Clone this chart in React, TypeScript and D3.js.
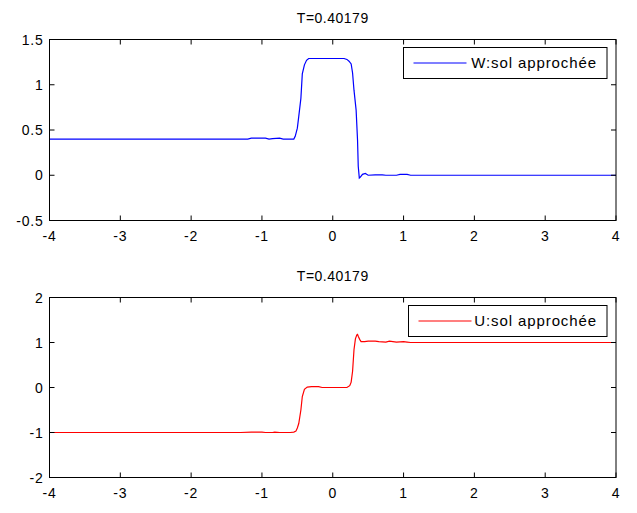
import React from 'react';
import * as d3 from 'd3';

// sampled solution W(x) at T=0.40179
const wX = [-4, -1.5, -1.2, -1.15, -0.95, -0.9, -0.85, -0.75, -0.7, -0.55, -0.53, -0.5, -0.48, -0.45, -0.43, -0.4, -0.37, -0.34,
  0.16, 0.2, 0.23, 0.26, 0.28, 0.3, 0.33, 0.35, 0.36, 0.375, 0.39, 0.42, 0.46, 0.5, 0.6, 0.7, 0.75, 0.9, 0.95, 1.05, 1.1, 4];
const wY = [0.4, 0.4, 0.4, 0.41, 0.41, 0.4, 0.405, 0.41, 0.4, 0.4, 0.43, 0.52, 0.65, 0.85, 1.12, 1.22, 1.27, 1.29,
  1.29, 1.28, 1.26, 1.23, 1.13, 0.94, 0.72, 0.39, 0.1, -0.03, -0.02, 0.01, 0.02, 0.0, 0.005, 0.005, 0.0, 0.0, 0.01, 0.01, 0.0, 0];

// sampled solution U(x) at T=0.40179
const uX = [-4, -1.3, -1.15, -1.0, -0.95, -0.85, -0.82, -0.75, -0.6, -0.55, -0.52, -0.5, -0.48, -0.45, -0.43, -0.4, -0.36, -0.3,
  -0.2, -0.15, 0.2, 0.24, 0.26, 0.28, 0.3, 0.32, 0.34, 0.35, 0.36, 0.38, 0.4, 0.45, 0.5, 0.6, 0.65, 0.75, 0.8, 0.9, 1.0, 1.05, 1.1, 4];
const uY = [-1, -1, -0.99, -0.99, -1, -1, -0.99, -1, -1, -0.99, -0.97, -0.9, -0.8, -0.5, -0.2, -0.04, 0.01, 0.02,
  0.02, 0.0, 0.0, 0.04, 0.12, 0.36, 0.84, 1.08, 1.17, 1.18, 1.14, 1.07, 1.02, 1.02, 1.03, 1.03, 1.02, 1.01, 1.03, 1.01, 1.02, 1.01, 1.0, 1];

const xTicks = [-4, -3, -2, -1, 0, 1, 2, 3, 4];
const wTicks = [-0.5, 0, 0.5, 1, 1.5];
const uTicks = [-2, -1, 0, 1, 2];
const title = 'T=0.40179';

const FONT = 'Liberation Sans, Arial, sans-serif';

type PanelProps = {
  top: number;
  bottom: number;
  xs: number[];
  ys: number[];
  yDomain: [number, number];
  yTicks: number[];
  color: string;
  label: string;
  legendLeft: number;
};

const left = 49.5;
const right = 616;
const tickLen = 5;

const Panel = ({ top, bottom, xs, ys, yDomain, yTicks, color, label, legendLeft }: PanelProps) => {
  const x = d3.scaleLinear().domain([-4, 4]).range([left, right]);
  const y = d3.scaleLinear().domain(yDomain).range([bottom, top]);
  const pts: [number, number][] = xs.map((v, i) => [v, ys[i]]);
  const line = d3
    .line<[number, number]>()
    .x((d) => x(d[0]))
    .y((d) => y(d[1]));

  const legTop = top + 8;
  const legBottom = top + 39;
  const legRight = 607;

  return (
    <g>
      <text x={(left + right) / 2} y={top - 17} textAnchor="middle" fontSize={14} letterSpacing={0.5} fontFamily={FONT}>
        {title}
      </text>
      <path d={line(pts) || ''} fill="none" stroke={color} strokeWidth={1.2} />
      <rect x={left} y={top} width={right - left} height={bottom - top} fill="none" stroke="#000" strokeWidth={1} />
      {xTicks.map((t) => (
        <g key={'x' + t}>
          <line x1={x(t)} x2={x(t)} y1={bottom} y2={bottom - tickLen} stroke="#000" />
          <line x1={x(t)} x2={x(t)} y1={top} y2={top + tickLen} stroke="#000" />
          <text x={x(t)} y={bottom + 20} textAnchor="middle" fontSize={14} letterSpacing={0.8} fontFamily={FONT}>
            {t}
          </text>
        </g>
      ))}
      {yTicks.map((t) => (
        <g key={'y' + t}>
          <line x1={left} x2={left + tickLen} y1={y(t)} y2={y(t)} stroke="#000" />
          <line x1={right} x2={right - tickLen} y1={y(t)} y2={y(t)} stroke="#000" />
          <text x={left - 6} y={y(t) + 5} textAnchor="end" fontSize={14} letterSpacing={0.8} fontFamily={FONT}>
            {t}
          </text>
        </g>
      ))}
      <rect x={legendLeft} y={legTop} width={legRight - legendLeft} height={legBottom - legTop} fill="#fff" stroke="#000" />
      <line x1={legendLeft + 10} x2={legendLeft + 63} y1={(legTop + legBottom) / 2} y2={(legTop + legBottom) / 2} stroke={color} strokeWidth={1.2} />
      <text x={legRight - 10} y={(legTop + legBottom) / 2 + 5} textAnchor="end" fontSize={15} letterSpacing={0.9} fontFamily={FONT}>
        {label}
      </text>
    </g>
  );
};

export default function App() {
  return (
    <svg width={637} height={513} style={{ position: 'absolute', left: 0, top: 0, background: '#fff' }}>
      <rect width={637} height={513} fill="#fff" />
      <Panel top={39.5} bottom={220.5} xs={wX} ys={wY} yDomain={[-0.5, 1.5]} yTicks={wTicks} color="#0000ff" label="W:sol approchée" legendLeft={403.5} />
      <Panel top={297.5} bottom={477.5} xs={uX} ys={uY} yDomain={[-2, 2]} yTicks={uTicks} color="#ff0000" label="U:sol approchée" legendLeft={408.5} />
    </svg>
  );
}
